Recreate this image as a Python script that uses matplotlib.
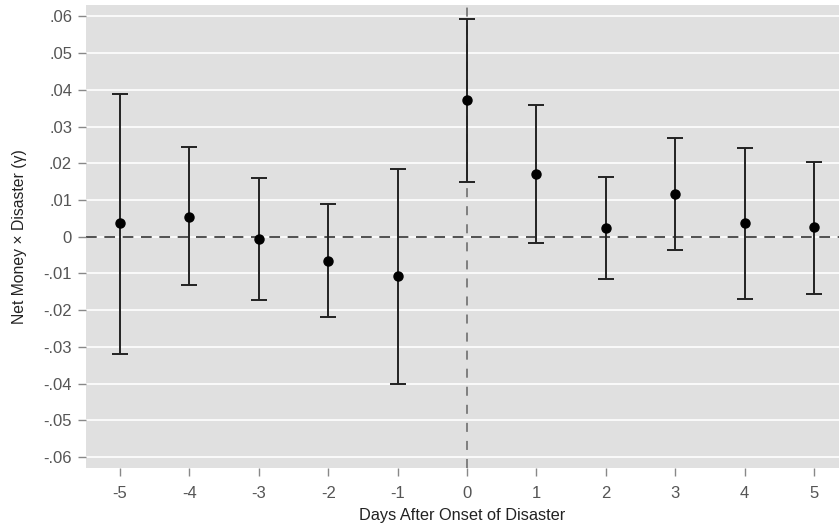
import matplotlib
matplotlib.use("Agg")
import matplotlib.pyplot as plt

plt.rcParams['font.family'] = ['Liberation Sans', 'DejaVu Sans']

# event-study estimates
days = [-5, -4, -3, -2, -1, 0, 1, 2, 3, 4, 5]
coef = [0.0036, 0.0055, -0.0006, -0.0066, -0.0106, 0.0372, 0.0172, 0.0023, 0.0117, 0.0036, 0.0026]
ci_low = [-0.0320, -0.0132, -0.0173, -0.0220, -0.0400, 0.0150, -0.0016, -0.0116, -0.0037, -0.0170, -0.0155]
ci_high = [0.0389, 0.0244, 0.0159, 0.0088, 0.0185, 0.0593, 0.0359, 0.0162, 0.0270, 0.0242, 0.0204]

yticks = [0.06, 0.05, 0.04, 0.03, 0.02, 0.01, 0, -0.01, -0.02, -0.03, -0.04, -0.05, -0.06]
ytick_labels = ['.06', '.05', '.04', '.03', '.02', '.01', '0', '-.01', '-.02', '-.03', '-.04', '-.05', '-.06']

fig = plt.figure(figsize=(8.39, 5.29), dpi=100)
ax = fig.add_axes([0.1025, 0.116, 0.8975, 0.8745])
ax.set_facecolor('#e0e0e0')

for y in yticks:
    ax.axhline(y, color='white', lw=1.2, zorder=0)

ax.axhline(0, color='#222222', lw=1.1, dashes=(7, 5), zorder=1)
ax.axvline(0, color='#777777', lw=1.3, dashes=(5, 5), zorder=1)

err_lo = [c - l for c, l in zip(coef, ci_low)]
err_hi = [h - c for c, h in zip(coef, ci_high)]
ax.errorbar(days, coef, yerr=[err_lo, err_hi], fmt='o', color='black',
            ecolor='#222222', elinewidth=1.4, capsize=6, capthick=1.4,
            markersize=6.5, zorder=3)

ax.set_xlim(-5.49, 5.36)
ax.set_ylim(-0.0629, 0.0631)
ax.set_xticks(days)
ax.set_xticklabels([str(d) for d in days])
ax.set_yticks(yticks)
ax.set_yticklabels(ytick_labels)

for s in ax.spines.values():
    s.set_visible(False)
ax.tick_params(axis='both', colors='#888888', labelcolor='#555555',
               labelsize=12, length=6, width=1)
ax.tick_params(axis='x', pad=7)
ax.tick_params(axis='y', pad=4)

ax.set_xlabel('Days After Onset of Disaster', fontsize=11.8, color='#222222', labelpad=5)
ax.set_ylabel('Net Money × Disaster (γ)', fontsize=11.3, color='#222222', labelpad=12)

fig.savefig('out.png', dpi=100)
